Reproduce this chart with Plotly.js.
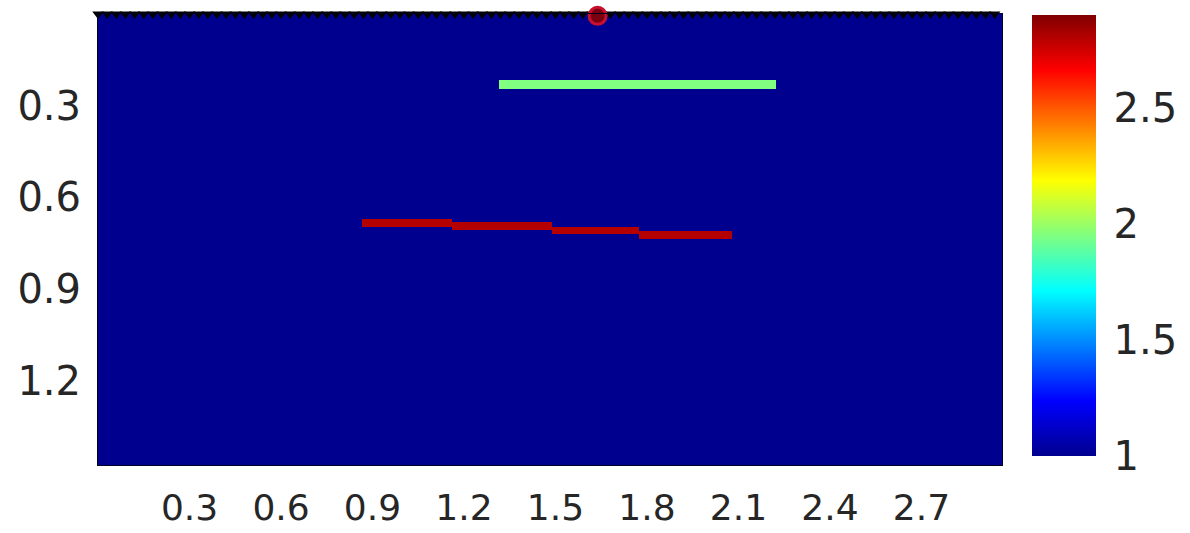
<!DOCTYPE html>
<html>
<head>
<meta charset="utf-8">
<script src="https://cdn.plot.ly/plotly-3.0.1.min.js"></script>
<style>
  html, body { margin: 0; padding: 0; background: #ffffff; }
  #chart { width: 1190px; height: 533px; }
</style>
</head>
<body>
<div id="chart"></div>
<script>
// Velocity model: uniform background with two embedded bodies.
const backgroundValue = 1.0;
const modelWidth = 2.964;   // x extent
const modelDepth = 1.476;   // depth extent
const cellSize = 0.005;

// Shallow horizontal layer (green)
const shallowStartX = [1.316];
const shallowEndX = [2.225];
const shallowDepth = [0.229];
const shallowValue = 1.95;

// Deeper stepped reflector (red)
const deepStartX = [0.864, 1.162, 1.490, 1.775];
const deepEndX = [1.162, 1.490, 1.775, 2.080];
const deepDepth = [0.681, 0.692, 0.707, 0.722];
const deepValue = 2.8;

const bodyThickness = 0.027;

// Source position
const sourceX = [1.638];
const sourceY = [0.006];

// Receiver line along the surface
const receiverX = [
  0.00, 0.03, 0.06, 0.09, 0.12, 0.15, 0.18, 0.21, 0.24, 0.27,
  0.30, 0.33, 0.36, 0.39, 0.42, 0.45, 0.48, 0.51, 0.54, 0.57,
  0.60, 0.63, 0.66, 0.69, 0.72, 0.75, 0.78, 0.81, 0.84, 0.87,
  0.90, 0.93, 0.96, 0.99, 1.02, 1.05, 1.08, 1.11, 1.14, 1.17,
  1.20, 1.23, 1.26, 1.29, 1.32, 1.35, 1.38, 1.41, 1.44, 1.47,
  1.50, 1.53, 1.56, 1.59, 1.62, 1.65, 1.68, 1.71, 1.74, 1.77,
  1.80, 1.83, 1.86, 1.89, 1.92, 1.95, 1.98, 2.01, 2.04, 2.07,
  2.10, 2.13, 2.16, 2.19, 2.22, 2.25, 2.28, 2.31, 2.34, 2.37,
  2.40, 2.43, 2.46, 2.49, 2.52, 2.55, 2.58, 2.61, 2.64, 2.67,
  2.70, 2.73, 2.76, 2.79, 2.82, 2.85, 2.88, 2.91, 2.94, 2.97
];
const receiverY = receiverX.map(() => 0);

// Axis ticks
const xTicks = [0.3, 0.6, 0.9, 1.2, 1.5, 1.8, 2.1, 2.4, 2.7];
const yTicks = [0.3, 0.6, 0.9, 1.2];
const colorTicks = [1, 1.5, 2, 2.5];
const colorMin = 1.0;
const colorMax = 2.9;

// Build the model grid
const nx = Math.round(modelWidth / cellSize);
const ny = Math.round(modelDepth / cellSize);
const z = [];
for (let j = 0; j < ny; j++) {
  const yc = (j + 0.5) * cellSize;
  const row = new Array(nx).fill(backgroundValue);
  for (let i = 0; i < nx; i++) {
    const xc = (i + 0.5) * cellSize;
    for (let k = 0; k < shallowStartX.length; k++) {
      if (xc >= shallowStartX[k] && xc <= shallowEndX[k] &&
          Math.abs(yc - shallowDepth[k]) <= bodyThickness / 2) row[i] = shallowValue;
    }
    for (let k = 0; k < deepStartX.length; k++) {
      if (xc >= deepStartX[k] && xc <= deepEndX[k] &&
          Math.abs(yc - deepDepth[k]) <= bodyThickness / 2) row[i] = deepValue;
    }
  }
  z.push(row);
}

const jet = [
  [0.0, '#00008f'], [0.125, '#0000ff'], [0.375, '#00ffff'],
  [0.625, '#ffff00'], [0.875, '#ff0000'], [1.0, '#800000']
];

const font = { family: 'DejaVu Sans, sans-serif', size: 40, color: '#262626' };
const xFont = { family: 'DejaVu Sans, sans-serif', size: 36, color: '#262626' };

const traces = [
  {
    type: 'heatmap',
    z: z,
    x0: cellSize / 2, dx: cellSize,
    y0: cellSize / 2, dy: cellSize,
    colorscale: jet,
    zmin: colorMin, zmax: colorMax,
    hoverinfo: 'skip',
    colorbar: {
      x: 1.0332, xanchor: 'left', xref: 'paper',
      y: 0.509, yanchor: 'middle',
      xpad: 0, ypad: 0,
      thickness: 64, thicknessmode: 'pixels',
      len: 441, lenmode: 'pixels',
      outlinewidth: 0,
      tickvals: colorTicks,
      ticktext: colorTicks.map(String),
      ticks: 'outside', ticklen: 10, tickcolor: 'rgba(0,0,0,0)',
      tickfont: font
    }
  },
  {
    type: 'scatter', mode: 'markers',
    x: receiverX, y: receiverY,
    marker: { symbol: 'triangle-down', size: 10, color: '#000000' },
    cliponaxis: false, hoverinfo: 'skip', showlegend: false
  },
  {
    type: 'scatter', mode: 'markers',
    x: sourceX, y: sourceY,
    marker: { symbol: 'circle', size: 17, color: '#7a0010',
              line: { color: '#c8102e', width: 3 } },
    cliponaxis: false, hoverinfo: 'skip', showlegend: false
  }
];

const layout = {
  width: 1190, height: 533,
  margin: { l: 98, r: 188, t: 14, b: 68, pad: 0, autoexpand: false },
  paper_bgcolor: '#ffffff', plot_bgcolor: '#00008f',
  font: font,
  showlegend: false,
  xaxis: {
    range: [0, modelWidth],
    tickvals: xTicks, ticktext: xTicks.map(v => v.toFixed(1)),
    ticks: 'outside', ticklen: 11, tickcolor: 'rgba(0,0,0,0)',
    showgrid: false, zeroline: false,
    showline: true, linecolor: '#000020', linewidth: 1, mirror: true,
    tickfont: xFont, automargin: false
  },
  yaxis: {
    range: [modelDepth, 0],
    tickvals: yTicks, ticktext: yTicks.map(v => v.toFixed(1)),
    ticks: 'outside', ticklen: 8, tickcolor: 'rgba(0,0,0,0)',
    showgrid: false, zeroline: false,
    showline: true, linecolor: '#000020', linewidth: 1, mirror: true,
    tickfont: font, automargin: false
  }
};

Plotly.newPlot('chart', traces, layout, { displayModeBar: false, staticPlot: true });
</script>
</body>
</html>
